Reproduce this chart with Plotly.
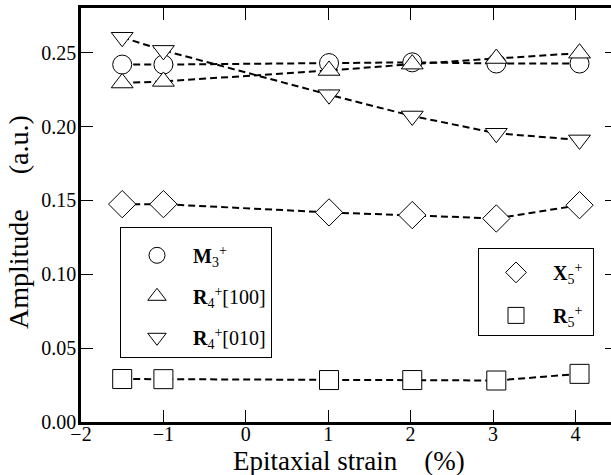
import plotly.graph_objects as go

# Epitaxial strain (%) at which each structure was relaxed
strain = [-1.5, -1.0, 1.01, 2.02, 3.04, 4.05]

# Mode amplitudes (a.u.)
m3_plus = [0.242, 0.242, 0.243, 0.2435, 0.2427, 0.2427]
r4_plus_100 = [0.2295, 0.2306, 0.238, 0.2423, 0.2461, 0.2497]
r4_plus_010 = [0.2605, 0.2516, 0.2216, 0.2072, 0.1955, 0.191]
x5_plus = [0.1475, 0.1475, 0.1419, 0.1401, 0.1378, 0.1468]
r5_plus = [0.0291, 0.029, 0.0284, 0.0284, 0.0281, 0.0326]

x_ticks = [-2, -1, 0, 1, 2, 3, 4]
y_ticks = [0.00, 0.05, 0.10, 0.15, 0.20, 0.25]

FONT = "Liberation Serif"

series = [
    ("<b>M</b><sub>3</sub><sup>+</sup>", m3_plus, "circle", 19, "legend"),
    ("<b>R</b><sub>4</sub><sup>+</sup>[100]", r4_plus_100, "triangle-up", 19, "legend"),
    ("<b>R</b><sub>4</sub><sup>+</sup>[010]", r4_plus_010, "triangle-down", 19, "legend"),
    ("<b>X</b><sub>5</sub><sup>+</sup>&nbsp;", x5_plus, "diamond", 21, "legend2"),
    ("<b>R</b><sub>5</sub><sup>+</sup>&nbsp;", r5_plus, "square", 19, "legend2"),
]

fig = go.Figure()

# dashed guide lines underneath the markers
for name, vals, sym, size, leg in series:
    fig.add_trace(go.Scatter(
        x=strain, y=vals, mode="lines", showlegend=False, hoverinfo="skip",
        line=dict(color="black", width=2, dash="7px,4px"),
    ))

# open-looking markers (white fill, thin black edge)
for i, (name, vals, sym, size, leg) in enumerate(series):
    fig.add_trace(go.Scatter(
        x=strain, y=vals, mode="markers", name=name, legend=leg,
        legendgroup=f"g{i}",
        marker=dict(symbol=sym, size=size, color="white",
                    line=dict(color="black", width=1)),
    ))

# right-hand tick marks (ticks only, no spine)
fig.add_trace(go.Scatter(x=[None], y=[None], yaxis="y2", showlegend=False,
                         hoverinfo="skip"))

axis_common = dict(
    showgrid=False, zeroline=False, ticks="inside", ticklen=12, tickwidth=1,
    tickcolor="black", linecolor="black", linewidth=2.5,
    tickfont=dict(family=FONT, size=20, color="black"),
)

fig.update_layout(
    width=611, height=475,
    margin=dict(l=81, r=0, t=8, b=53),
    paper_bgcolor="white", plot_bgcolor="white",
    font=dict(family=FONT, size=20, color="black"),
    xaxis=dict(
        **axis_common, range=[-2, 4.432], tickvals=x_ticks,
        ticktext=[f"{v:d}".replace("-", "\u2212") for v in x_ticks],
        showline=True, mirror="ticks", ticklabelstandoff=-8,
    ),
    yaxis=dict(
        **axis_common, range=[0, 0.2803], tickvals=y_ticks,
        ticktext=[f"{v:.2f}" for v in y_ticks], showline=True, mirror=False,
        ticklabelstandoff=-2,
    ),
    yaxis2=dict(
        overlaying="y", side="right", anchor="x", range=[0, 0.2803],
        tickvals=y_ticks, showticklabels=False, ticks="inside", ticklen=6,
        tickwidth=1, tickcolor="black", showline=False, showgrid=False,
        zeroline=False,
    ),
    annotations=[
        dict(text="Epitaxial strain&nbsp;&nbsp;&nbsp;&nbsp;(%)",
             xref="paper", yref="paper", x=(349 - 81) / 530,
             y=(422 - 461) / 414, xanchor="center", yanchor="middle",
             showarrow=False, font=dict(family=FONT, size=27)),
        dict(text="Amplitude&nbsp;&nbsp;&nbsp;&nbsp;&nbsp;(a.u.)",
             xref="paper", yref="paper", x=(18 - 81) / 530,
             y=(422 - 222) / 414, xanchor="center", yanchor="middle",
             textangle=-90, showarrow=False, font=dict(family=FONT, size=28)),
    ],
    legend=dict(
        x=(120 - 81) / 530, y=(422 - 227) / 414, xanchor="left", yanchor="top",
        bordercolor="black", borderwidth=1, bgcolor="white",
        traceorder="grouped", tracegroupgap=12, itemwidth=62,
        title=dict(text=" ", font=dict(size=6)),
        font=dict(family=FONT, size=20),
    ),
    legend2=dict(
        x=(478 - 81) / 530, y=(422 - 248) / 414, xanchor="left", yanchor="top",
        bordercolor="black", borderwidth=1, bgcolor="white",
        traceorder="grouped", tracegroupgap=14, itemwidth=64,
        title=dict(text=" ", font=dict(size=3)),
        font=dict(family=FONT, size=20),
    ),
)

fig.write_html("out.html")
